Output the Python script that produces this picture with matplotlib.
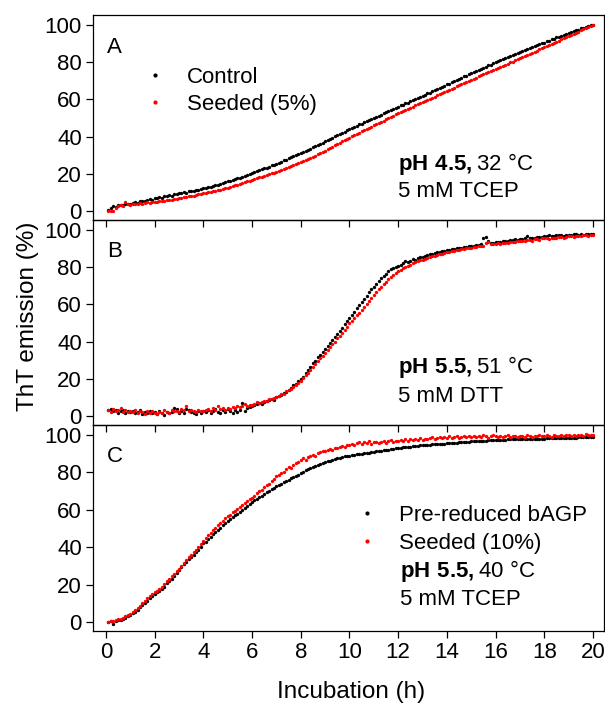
import numpy as np
import matplotlib
matplotlib.use("Agg")
import matplotlib.pyplot as plt

plt.rcParams['font.family'] = ['Liberation Sans', 'DejaVu Sans']
plt.rcParams['mathtext.fontset'] = 'custom'
plt.rcParams['mathtext.rm'] = 'Liberation Sans'
plt.rcParams['mathtext.bf'] = 'Liberation Sans:bold'

# sampling times (h), one reading every 6 min
t = np.round(np.arange(1, 201) * 0.1, 1)

# panel A - pH 4.5, 32 C, 5 mM TCEP
a_control = [
    0.5, 1.8, 2.6, 2.2, 3.0, 3.4, 3.1, 3.6, 3.9, 4.0,
    4.3, 4.8, 4.5, 5.2, 5.5, 5.3, 6.0, 6.4, 6.2, 6.9,
    7.0, 7.4, 7.1, 7.9, 8.0, 8.4, 8.2, 8.9, 9.1, 9.5,
    9.6, 10.1, 9.9, 10.6, 10.8, 11.0, 11.5, 11.4, 12.0, 12.5,
    12.6, 13.1, 13.0, 13.6, 14.0, 14.2, 14.8, 15.0, 15.5, 16.0,
    16.3, 16.9, 17.0, 17.6, 18.0, 18.5, 18.9, 19.5, 19.8, 20.5,
    20.8, 21.4, 21.8, 22.4, 22.9, 23.3, 23.9, 24.5, 24.8, 25.5,
    26.0, 26.5, 27.2, 27.6, 28.3, 28.8, 29.4, 29.9, 30.5, 31.0,
    31.7, 32.2, 33.0, 33.5, 34.2, 34.8, 35.4, 36.1, 36.7, 37.5,
    38.0, 38.8, 39.3, 40.1, 40.6, 41.4, 42.0, 42.6, 43.4, 44.0,
    44.6, 45.3, 45.8, 46.5, 47.0, 47.7, 48.2, 48.9, 49.4, 50.0,
    50.6, 51.3, 51.7, 52.6, 53.0, 53.5, 54.3, 54.8, 55.3, 56.0,
    56.7, 57.1, 57.8, 58.3, 59.0, 59.4, 60.2, 60.6, 61.4, 62.0,
    62.5, 63.2, 63.6, 64.4, 65.0, 65.4, 66.2, 66.7, 67.3, 68.0,
    68.5, 69.3, 69.7, 70.5, 71.0, 71.6, 72.3, 72.7, 73.5, 74.0,
    74.5, 75.3, 75.6, 76.5, 77.0, 77.4, 78.3, 78.7, 79.4, 80.0,
    80.6, 81.0, 81.8, 82.2, 82.9, 83.3, 84.0, 84.4, 85.1, 85.5,
    86.1, 86.5, 87.2, 87.5, 88.3, 88.6, 89.2, 89.6, 90.3, 90.5,
    91.2, 91.5, 92.3, 92.5, 93.3, 93.6, 94.2, 94.5, 95.2, 95.5,
    96.2, 96.5, 97.1, 97.5, 98.1, 98.4, 99.0, 99.2, 99.8, 100.0,
]
a_seeded = [
    0.0, 0.0, 0.2, 1.8, 2.5, 3.0, 2.8, 5.0, 3.6, 3.5,
    3.8, 3.6, 4.0, 4.2, 4.0, 4.3, 4.6, 4.5, 4.8, 5.0,
    5.1, 5.3, 5.2, 5.6, 5.8, 6.0, 6.1, 6.4, 6.6, 7.0,
    7.1, 7.4, 7.6, 7.9, 8.1, 8.3, 8.6, 8.9, 9.2, 9.5,
    9.7, 10.0, 10.3, 10.6, 10.9, 11.2, 11.5, 11.8, 12.2, 12.5,
    12.9, 13.3, 13.8, 14.2, 14.6, 15.0, 15.5, 15.9, 16.4, 16.8,
    17.2, 17.6, 18.1, 18.5, 18.9, 19.4, 19.8, 20.3, 20.7, 21.2,
    21.6, 22.1, 22.6, 23.1, 23.6, 24.1, 24.6, 25.1, 25.7, 26.2,
    26.8, 27.4, 28.0, 28.6, 29.2, 29.8, 30.5, 31.1, 31.8, 32.5,
    33.2, 33.9, 34.6, 35.3, 36.0, 36.7, 37.4, 38.1, 38.8, 39.5,
    40.2, 40.8, 41.5, 42.1, 42.8, 43.4, 44.1, 44.7, 45.4, 46.0,
    46.7, 47.3, 48.0, 48.6, 49.3, 49.9, 50.6, 51.2, 51.9, 52.5,
    53.1, 53.7, 54.3, 54.9, 55.5, 56.1, 56.7, 57.3, 57.9, 58.5,
    59.1, 59.7, 60.3, 60.9, 61.5, 62.1, 62.7, 63.3, 63.9, 64.5,
    65.1, 65.7, 66.3, 66.9, 67.5, 68.1, 68.7, 69.3, 69.9, 70.5,
    71.1, 71.7, 72.3, 72.9, 73.5, 74.1, 74.7, 75.3, 75.9, 76.5,
    77.0, 77.6, 78.1, 78.7, 79.2, 79.8, 80.3, 80.9, 81.4, 82.0,
    82.6, 83.2, 83.8, 84.4, 85.0, 85.6, 86.2, 86.8, 87.4, 88.0,
    88.6, 89.2, 89.8, 90.4, 91.0, 91.6, 92.2, 92.8, 93.4, 94.0,
    94.6, 95.2, 95.8, 96.4, 97.0, 97.6, 98.2, 98.8, 99.4, 100.0,
]

# panel B - pH 5.5, 51 C, 5 mM DTT
b_control = [
    3.0, 3.6, 2.5, 3.2, 1.8, 2.6, 3.3, 1.5, 2.9, 2.1,
    2.7, 1.6, 2.4, 3.0, 1.3, 2.2, 1.8, 2.6, 1.4, 2.0,
    1.2, 2.8, 1.5, 0.8, 2.3, 1.4, 2.0, 4.5, 3.6, 1.8,
    2.5, 1.9, 3.8, 3.1, 2.2, 1.4, 1.0, 2.5, 1.6, 2.8,
    2.0, 3.2, 1.5, 2.9, 4.0, 2.3, 1.8, 3.0, 2.2, 3.6,
    2.8, 1.9, 3.5, 2.4, 3.0, 7.0, 2.6, 4.2, 4.8, 5.4,
    5.8, 6.4, 7.0, 6.6, 7.5, 8.0, 8.6, 9.2, 8.8, 10.0,
    10.6, 11.2, 12.4, 13.0, 13.8, 15.0, 16.6, 17.2, 19.0, 20.0,
    21.0, 23.0, 24.5, 26.4, 28.5, 29.6, 31.5, 33.0, 34.5, 36.0,
    37.5, 39.4, 40.8, 42.6, 44.0, 45.8, 47.4, 49.2, 51.0, 52.5,
    54.5, 56.0, 57.8, 59.5, 61.0, 63.0, 64.6, 66.4, 68.0, 69.5,
    71.0, 72.6, 74.0, 75.2, 76.5, 77.8, 78.8, 79.6, 80.2, 80.8,
    81.4, 82.0, 83.5, 82.6, 83.4, 84.5, 84.0, 84.8, 85.2, 85.6,
    86.0, 86.4, 86.9, 87.0, 87.5, 87.9, 88.2, 88.6, 88.9, 89.2,
    89.4, 89.5, 89.9, 90.2, 90.0, 90.5, 90.8, 90.9, 91.2, 91.4,
    91.6, 91.8, 92.0, 92.5, 95.5, 96.0, 94.0, 93.0, 93.2, 93.3,
    93.5, 93.6, 93.8, 94.2, 94.0, 94.4, 94.6, 95.2, 94.8, 95.0,
    95.2, 95.4, 96.5, 95.6, 95.8, 95.9, 96.2, 96.0, 96.4, 96.5,
    96.6, 97.0, 96.8, 96.9, 97.5, 97.1, 97.2, 96.6, 97.4, 97.5,
    97.3, 97.8, 97.6, 97.2, 97.9, 97.4, 97.8, 97.6, 98.0, 97.9,
]
b_seeded = [
    3.5, 2.2, 3.8, 2.5, 3.0, 4.2, 2.0, 3.1, 2.4, 2.8,
    2.0, 3.2, 1.5, 2.6, 2.1, 1.2, 2.8, 1.8, 2.5, 1.9,
    1.0, 2.4, 1.6, 3.0, 2.2, 1.8, 3.4, 2.5, 2.9, 2.2,
    4.0, 3.3, 5.5, 2.8, 3.5, 2.6, 2.0, 3.3, 2.8, 2.5,
    3.0, 3.8, 2.9, 4.5, 3.4, 5.5, 3.6, 4.1, 3.5, 4.3,
    3.8, 5.0, 4.4, 5.6, 5.0, 5.5, 6.3, 5.6, 5.9, 6.2,
    6.5, 7.8, 6.9, 7.5, 8.3, 7.9, 9.0, 9.4, 9.8, 10.5,
    11.0, 11.6, 12.0, 13.2, 14.0, 14.6, 15.5, 16.8, 17.9, 19.0,
    20.4, 21.8, 23.3, 25.0, 26.5, 28.0, 29.4, 31.0, 32.3, 34.0,
    35.5, 37.2, 38.6, 40.0, 41.8, 43.2, 44.7, 46.3, 48.0, 50.0,
    51.3, 52.8, 54.2, 55.5, 57.0, 58.6, 60.2, 61.8, 63.4, 65.0,
    66.5, 68.0, 69.3, 70.7, 72.0, 73.4, 74.6, 75.8, 76.9, 78.0,
    78.7, 79.4, 80.1, 80.8, 81.4, 82.0, 82.6, 83.1, 83.6, 84.0,
    84.4, 84.8, 85.2, 85.7, 86.0, 86.4, 86.8, 87.2, 87.6, 88.0,
    88.3, 88.5, 88.8, 89.0, 89.3, 89.6, 89.8, 90.1, 90.3, 90.5,
    90.8, 91.0, 91.2, 91.4, 91.6, 93.0, 93.6, 92.2, 92.4, 92.5,
    92.7, 92.4, 93.0, 93.2, 92.8, 93.5, 93.7, 93.3, 93.9, 94.0,
    94.2, 93.8, 94.5, 94.6, 94.2, 95.0, 95.1, 94.8, 95.4, 95.5,
    95.6, 95.3, 95.8, 95.9, 95.6, 96.1, 96.2, 95.9, 96.4, 96.5,
    96.6, 96.3, 96.8, 96.9, 96.6, 97.1, 97.2, 96.9, 97.4, 97.5,
]

# panel C - pH 5.5, 40 C, 5 mM TCEP
c_control = [
    0.0, 0.5, -1.2, 0.8, 1.2, 1.0, 1.8, 2.2, 3.2, 4.0,
    4.6, 5.6, 6.6, 7.8, 9.0, 10.0, 11.0, 12.6, 13.8, 15.0,
    15.8, 16.6, 17.6, 18.8, 20.6, 22.0, 23.2, 24.8, 26.4, 28.0,
    29.4, 30.8, 32.2, 33.6, 35.0, 36.0, 37.4, 38.6, 40.2, 42.0,
    43.0, 44.4, 45.6, 46.8, 48.0, 49.2, 50.4, 51.6, 52.8, 54.0,
    55.0, 56.0, 57.0, 58.0, 59.0, 60.0, 61.2, 62.2, 63.0, 64.0,
    65.0, 65.8, 66.8, 67.6, 68.5, 69.4, 70.2, 71.0, 71.6, 72.5,
    73.2, 73.8, 74.6, 75.2, 76.0, 76.8, 77.4, 78.0, 78.8, 79.5,
    80.2, 81.0, 81.6, 82.3, 83.0, 83.5, 84.0, 84.6, 85.0, 85.5,
    86.0, 86.3, 86.8, 87.2, 87.5, 87.8, 88.2, 88.5, 88.8, 89.0,
    89.2, 89.5, 89.6, 89.9, 90.0, 90.3, 90.5, 90.6, 90.8, 91.0,
    91.2, 91.4, 91.6, 91.8, 92.0, 92.2, 92.4, 92.6, 92.8, 93.0,
    93.2, 93.3, 93.5, 93.6, 93.8, 93.9, 94.1, 94.2, 94.4, 94.5,
    94.6, 94.7, 94.8, 94.9, 95.0, 95.1, 95.2, 95.3, 95.4, 95.5,
    95.6, 95.7, 95.8, 95.9, 96.0, 96.1, 96.2, 96.3, 96.4, 96.5,
    96.6, 96.7, 96.8, 96.9, 97.0, 97.0, 97.1, 97.2, 97.2, 97.3,
    97.4, 97.4, 97.5, 97.5, 97.6, 97.6, 97.7, 97.7, 97.8, 97.8,
    97.8, 97.9, 97.9, 97.9, 98.0, 98.0, 98.0, 98.0, 98.0, 98.0,
    98.1, 98.1, 98.2, 98.2, 98.3, 98.3, 98.4, 98.4, 98.5, 98.5,
    98.5, 98.6, 98.6, 98.7, 98.7, 98.8, 98.8, 98.9, 98.9, 99.0,
]
c_seeded = [
    0.0, 0.4, 0.8, 1.0, 1.5, 1.6, 2.4, 3.0, 3.8, 4.5,
    5.6, 6.6, 7.6, 8.6, 10.0, 11.2, 12.6, 13.8, 14.8, 16.0,
    16.6, 17.6, 18.8, 20.4, 22.0, 23.2, 24.6, 25.8, 27.0, 28.5,
    30.0, 31.6, 33.4, 34.6, 36.0, 37.2, 38.6, 40.0, 41.8, 43.5,
    45.0, 46.4, 47.6, 49.0, 50.5, 52.0, 52.8, 54.0, 55.4, 56.5,
    57.4, 58.6, 59.6, 60.6, 61.5, 62.8, 63.6, 64.6, 65.6, 66.5,
    67.4, 68.8, 69.8, 70.8, 72.0, 73.4, 74.0, 75.6, 76.6, 78.0,
    78.6, 79.8, 80.4, 81.6, 83.0, 82.4, 84.0, 84.8, 85.6, 86.5,
    87.4, 86.8, 88.0, 88.8, 89.5, 89.0, 90.4, 90.8, 91.4, 91.5,
    92.0, 92.6, 91.8, 93.0, 93.0, 93.8, 94.2, 93.6, 94.8, 94.5,
    95.2, 94.8, 95.6, 96.2, 95.0, 96.4, 95.8, 96.8, 95.4, 96.0,
    96.4, 95.6, 96.0, 96.8, 95.8, 96.6, 97.2, 96.2, 96.8, 96.5,
    97.4, 96.8, 97.6, 97.0, 98.0, 97.2, 97.8, 97.4, 98.2, 97.5,
    98.0, 97.6, 98.4, 98.8, 97.8, 98.6, 99.0, 98.2, 98.8, 98.5,
    99.2, 98.6, 99.0, 99.6, 98.4, 99.0, 99.4, 98.8, 99.6, 99.0,
    99.4, 98.8, 99.6, 99.0, 100.0, 99.2, 98.6, 99.4, 99.8, 99.2,
    99.0, 99.6, 98.8, 99.4, 100.2, 99.0, 99.6, 99.2, 98.8, 99.3,
    99.6, 99.0, 99.8, 99.2, 98.8, 99.6, 99.4, 100.0, 99.2, 99.5,
    100.2, 99.4, 99.0, 99.8, 99.6, 99.2, 100.0, 99.4, 99.8, 99.7,
    99.4, 100.0, 99.6, 100.2, 99.8, 99.4, 100.4, 99.8, 100.2, 100.0,
]

panels = [
    ("A", a_control, a_seeded, ["Control", "Seeded (5%)"],
     [r"$\mathbf{pH\ 4.5,}$32 °C", "5 mM TCEP"]),
    ("B", b_control, b_seeded, None,
     [r"$\mathbf{pH\ 5.5,}$51 °C", "5 mM DTT"]),
    ("C", c_control, c_seeded, ["Pre-reduced bAGP", "Seeded (10%)"],
     [r"$\mathbf{pH\ 5.5,}$40 °C", "5 mM TCEP"]),
]

fig = plt.figure(figsize=(6.05, 7.04), dpi=100)
left, width = 0.1537, 0.8446
bottoms = [0.6875, 0.3963, 0.1037]
heights = [0.2912, 0.2912, 0.2926]
red = "#ff0000"
fs = 16

axes = []
for i, (letter, ctrl, seed, labels, notes) in enumerate(panels):
    ax = fig.add_axes([left, bottoms[i], width, heights[i]])
    ax.set_facecolor("none")
    ax.plot(t, ctrl, "o", ms=2.4, mew=0, color="black", label=labels[0] if labels else None)
    ax.plot(t, seed, "o", ms=2.4, mew=0, color=red, label=labels[1] if labels else None)
    ax.set_xlim(-0.53, 20.45)
    ax.set_ylim(-4.8, 105.3)
    ax.set_xticks(range(0, 21, 2))
    ax.set_yticks(range(0, 101, 20))
    ax.tick_params(direction="out", length=5, width=0.9, labelsize=fs, pad=3)
    for s in ax.spines.values():
        s.set_linewidth(0.9)
    if i < 2:
        ax.tick_params(labelbottom=False)
    ax.text(0.027, [0.815, 0.82, 0.82][i], letter, transform=ax.transAxes,
            fontsize=fs, va="baseline", ha="left")
    axes.append(ax)

# legends
axes[0].legend(loc="upper left", bbox_to_anchor=(0.104, 0.746), frameon=False,
               fontsize=fs, handlelength=0.8, handletextpad=1.02, labelspacing=0.27,
               borderpad=0, borderaxespad=0, markerscale=1.25)
axes[2].legend(loc="upper left", bbox_to_anchor=(0.519, 0.611), frameon=False,
               fontsize=fs, handlelength=0.8, handletextpad=1.05, labelspacing=0.3,
               borderpad=0, borderaxespad=0, markerscale=1.25)

# condition notes
note_pos = [(0.597, 0.244, 0.114), (0.597, 0.252, 0.114), (0.601, 0.264, 0.126)]
for ax, (letter, ctrl, seed, labels, notes), (nx, ny1, ny2) in zip(axes, panels, note_pos):
    ax.text(nx, ny1, notes[0], transform=ax.transAxes, fontsize=fs, va="baseline")
    ax.text(nx, ny2, notes[1], transform=ax.transAxes, fontsize=fs, va="baseline")

fig.text(0.046, 0.55, "ThT emission (%)", rotation=90, fontsize=17.5,
         ha="center", va="center")
fig.text(0.58, 0.009, "Incubation (h)", fontsize=17.5, ha="center", va="baseline")

fig.savefig("out.png", dpi=100)
